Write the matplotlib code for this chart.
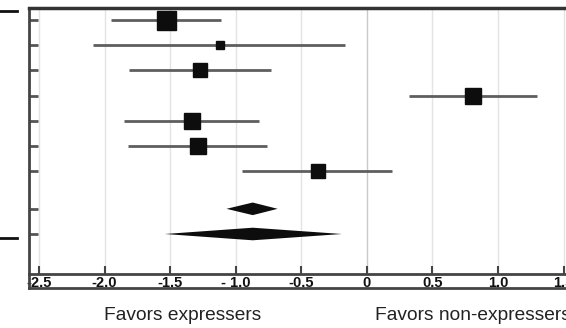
# forest plot: standardized mean differences, expressers vs non-expressers

import numpy as np
import matplotlib.pyplot as plt
from matplotlib.lines import Line2D

plt.rcParams['font.family'] = ['Liberation Sans', 'DejaVu Sans']

# individual studies
est     = [-1.53, -1.12, -1.27, 0.81, -1.33, -1.29, -0.37]
ci_low  = [-1.95, -2.09, -1.81, 0.32, -1.85, -1.82, -0.95]
ci_high = [-1.11, -0.17, -0.73, 1.30, -0.82, -0.76, 0.19]
weights = [24.2, 4.3, 13.1, 15.1, 15.1, 15.1, 13.1]   # % weight -> box area

# pooled estimates (fixed, random)
pool_est  = [-0.87, -0.87]
pool_low  = [-1.07, -1.54]
pool_high = [-0.68, -0.19]

xtick_vals   = [-2.5, -2.0, -1.5, -1.0, -0.5, 0, 0.5, 1.0, 1.5]
xtick_labels = ['-2.5', '-2.0', '-1.5', '- 1.0', '-0.5', '0', '0.5', '1.0', '1.5']


def draw():
    W, H = 566, 328
    fig = plt.figure(figsize=(W / 100, H / 100), dpi=100)

    ax = fig.add_axes([29 / W, (H - 274) / H, 1 - 29 / W, 266 / H])
    box = fig.add_axes([29 / W, (H - 288) / H, 1 - 29 / W, 14 / H])

    n = len(est)
    y_st = np.arange(n)
    y_pool = n + 0.5 + np.arange(len(pool_est))

    # grid
    for xv in xtick_vals:
        ax.axvline(xv, color='#c9c9c9' if xv == 0 else '#e4e4e4', lw=1, zorder=0)

    # study rows
    side_px = 19 * np.sqrt(np.array(weights) / max(weights))
    for i in range(n):
        ax.plot([ci_low[i], ci_high[i]], [y_st[i]] * 2, color='#5e5e5e', lw=2, zorder=2,
                solid_capstyle='butt')
        ax.plot(est[i], y_st[i], marker='s', ms=side_px[i] * 0.72, color='#0d0d0d',
                mec='#0d0d0d', zorder=3)

    # pooled diamonds
    hh = 0.25
    for j in range(len(pool_est)):
        yy = y_pool[j]
        ax.fill([pool_low[j], pool_est[j], pool_high[j], pool_est[j]],
                [yy, yy - hh, yy, yy + hh], color='#0d0d0d', lw=0, zorder=3)

    ax.set_xlim(-2.576, 1.519)
    ax.set_ylim(8.5 + 40 / 25.18, -12 / 25.18)

    ax.set_xticks(xtick_vals)
    ax.set_xticklabels(xtick_labels, fontsize=10.5, fontweight='bold', color='#111111')
    ax.tick_params(axis='x', direction='in', length=6, width=1.5, color='#444444', pad=1.5)
    ax.set_yticks(np.concatenate([y_st, y_pool]))
    ax.set_yticklabels([])
    ax.tick_params(axis='y', direction='in', length=6.5, width=2, color='#555555')

    ax.spines['right'].set_visible(False)
    ax.spines['top'].set_linewidth(2.5)
    ax.spines['top'].set_color('#333333')
    ax.spines['left'].set_linewidth(2)
    ax.spines['left'].set_color('#444444')
    ax.spines['bottom'].set_linewidth(2)
    ax.spines['bottom'].set_color('#444444')

    box.set_xticks([])
    box.set_yticks([])
    box.patch.set_alpha(0)
    for s in ['top', 'right']:
        box.spines[s].set_visible(False)
    box.spines['left'].set_linewidth(2)
    box.spines['left'].set_color('#444444')
    box.spines['bottom'].set_linewidth(2)
    box.spines['bottom'].set_color('#444444')

    # cropped rules from the left-hand table
    for yp in [11, 238]:
        fig.add_artist(Line2D([0, 17 / W], [(H - yp) / H] * 2, color='#111111', lw=2))

    fig.text(183 / W, (H - 316) / H, 'Favors expressers', ha='center', va='center',
             fontsize=13.8, color='#222222')
    fig.text(375 / W, (H - 316) / H, 'Favors non-expressers', ha='left', va='center',
             fontsize=13.8, color='#222222')

    fig.savefig('out.png', dpi=100)


if __name__ == '__main__':
    draw()
